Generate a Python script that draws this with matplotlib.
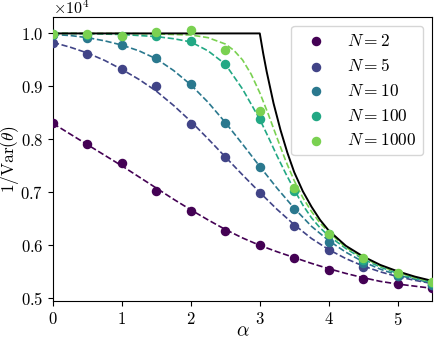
import numpy as np
import matplotlib
matplotlib.use('Agg')
import matplotlib.pyplot as plt

plt.rcParams['font.family'] = 'serif'
plt.rcParams['font.serif'] = ['cmr10', 'DejaVu Serif']
plt.rcParams['mathtext.fontset'] = 'cm'
plt.rcParams['axes.formatter.use_mathtext'] = True
plt.rcParams['font.size'] = 12

# simulated points (units of 1e4)
alpha_pts = [0, 0.5, 1, 1.5, 2, 2.5, 3, 3.5, 4, 4.5, 5, 5.5]
pts_N2 = [0.830, 0.791, 0.755, 0.703, 0.664, 0.628, 0.600, 0.577, 0.554, 0.537, 0.527, 0.519]
pts_N5 = [0.982, 0.962, 0.932, 0.901, 0.829, 0.767, 0.698, 0.636, 0.591, 0.560, 0.542, 0.525]
pts_N10 = [0.997, 0.992, 0.979, 0.954, 0.904, 0.831, 0.747, 0.668, 0.607, 0.566, 0.542, 0.525]
pts_N100 = [0.999, 0.997, 0.996, 0.995, 0.986, 0.942, 0.839, 0.703, 0.621, 0.572, 0.546, 0.529]
pts_N1000 = [0.999, 0.998, 0.996, 1.002, 1.006, 0.969, 0.853, 0.709, 0.622, 0.577, 0.548, 0.531]

# theory curves (dashed)
alpha_q = [0, 0.25, 0.5, 0.75, 1, 1.25, 1.5, 1.75, 2, 2.25, 2.5, 2.75,
           3, 3.25, 3.5, 3.75, 4, 4.25, 4.5, 4.75, 5, 5.25, 5.5]
cur_N2 = [0.830, 0.810, 0.790, 0.770, 0.750, 0.729, 0.708, 0.687, 0.667, 0.648, 0.630, 0.614,
          0.600, 0.588, 0.577, 0.566, 0.556, 0.547, 0.539, 0.532, 0.527, 0.523, 0.519]
cur_N5 = [0.983, 0.974, 0.963, 0.949, 0.932, 0.913, 0.891, 0.864, 0.834, 0.801, 0.767, 0.733,
          0.700, 0.668, 0.639, 0.613, 0.592, 0.575, 0.561, 0.550, 0.541, 0.534, 0.528]
cur_N10 = [0.998, 0.996, 0.992, 0.986, 0.978, 0.967, 0.952, 0.930, 0.903, 0.870, 0.832, 0.791,
           0.749, 0.708, 0.670, 0.636, 0.609, 0.587, 0.569, 0.555, 0.544, 0.536, 0.529]

alpha_N100 = [0, 0.5, 1, 1.5, 1.75, 2, 2.25, 2.5, 2.75, 3, 3.125, 3.25, 3.375, 3.5,
              3.625, 3.75, 3.875, 4, 4.25, 4.5, 4.75, 5, 5.25, 5.5]
cur_N100 = [1.0, 0.9995, 0.998, 0.994, 0.990, 0.984, 0.967, 0.942, 0.895, 0.838, 0.804, 0.769, 0.736, 0.705,
            0.676, 0.652, 0.633, 0.618, 0.594, 0.574, 0.559, 0.547, 0.538, 0.530]

alpha_N1000 = [0, 1, 1.5, 2, 2.25, 2.5, 2.625, 2.75, 2.875, 3, 3.125, 3.25, 3.375, 3.5,
               3.625, 3.75, 3.875, 4, 4.25, 4.5, 4.75, 5, 5.25, 5.5]
cur_N1000 = [1.0, 1.0, 0.999, 0.997, 0.992, 0.980, 0.968, 0.950, 0.923, 0.888, 0.847, 0.803, 0.760, 0.722,
             0.690, 0.664, 0.642, 0.625, 0.596, 0.577, 0.561, 0.549, 0.539, 0.531]

# N -> infinity bound (solid black)
alpha_bound = [0, 3, 3.05, 3.1, 3.2, 3.3, 3.4, 3.5, 3.625, 3.75, 3.875, 4,
               4.25, 4.5, 4.75, 5, 5.25, 5.5]
bound = [1.0, 1.0, 0.962, 0.928, 0.868, 0.818, 0.775, 0.738, 0.702, 0.673, 0.648, 0.628,
         0.599, 0.579, 0.563, 0.551, 0.541, 0.533]

labels = ['$N=2$', '$N=5$', '$N=10$', '$N=100$', '$N=1000$']
pts = [pts_N2, pts_N5, pts_N10, pts_N100, pts_N1000]
curves = [(alpha_q, cur_N2), (alpha_q, cur_N5), (alpha_q, cur_N10),
          (alpha_N100, cur_N100), (alpha_N1000, cur_N1000)]
colors = plt.cm.viridis(np.linspace(0, 1, 6))

fig = plt.figure(figsize=(4.36, 3.44), dpi=100)
ax = fig.add_axes([0.1216, 0.125, 0.8694, 0.8256])

ax.plot(alpha_bound, np.array(bound) * 1e4, color='black', lw=1.4, zorder=3)
for i in range(5):
    xs, ys = curves[i]
    ax.plot(xs, np.array(ys) * 1e4, '--', color=colors[i], lw=1.2, zorder=2)
    ax.scatter(alpha_pts, np.array(pts[i]) * 1e4, s=34, color=colors[i], label=labels[i], zorder=4)

ax.set_xlim(0, 5.5)
ax.set_ylim(4950, 10310)
ax.set_xticks([0, 1, 2, 3, 4, 5])
ax.set_yticks([5000, 6000, 7000, 8000, 9000, 10000])
ax.ticklabel_format(axis='y', style='sci', scilimits=(4, 4))
ax.tick_params(labelsize=12)
ax.yaxis.get_offset_text().set_visible(False)
ax.text(0, 1.011, r'$\times10^{4}$', transform=ax.transAxes, ha='left', va='baseline', fontsize=11.5)
ax.set_xlabel(r'$\alpha$', fontsize=14)
ax.xaxis.set_label_coords(0.5, -0.075)
ax.set_ylabel(r'$1/\mathrm{Var}(\hat{\theta})$', fontsize=12.5)
ax.yaxis.set_label_coords(-0.083, 0.5)
ax.legend(loc='upper right', fontsize=12.5)

plt.savefig('out.png', dpi=100)
